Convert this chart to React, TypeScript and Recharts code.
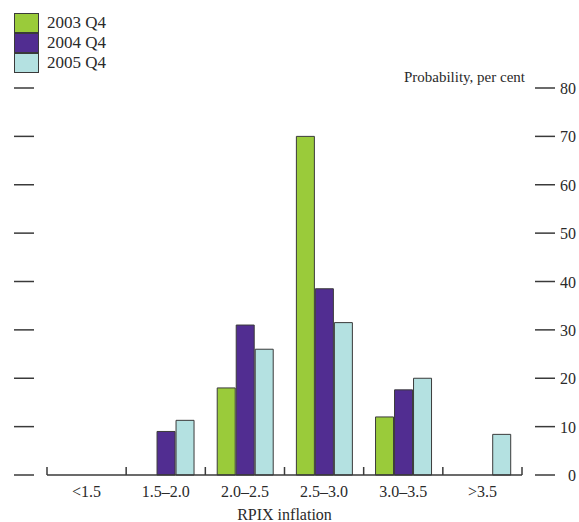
import { Bar, BarChart, XAxis, YAxis } from "recharts";

const categories = ["<1.5", "1.5–2.0", "2.0–2.5", "2.5–3.0", "3.0–3.5", ">3.5"];
const q2003 = [0, 0, 18, 70, 12, 0];
const q2004 = [0, 9, 31, 38.5, 17.6, 0];
const q2005 = [0, 11.3, 26, 31.5, 20, 8.4];
const yTicks = [0, 10, 20, 30, 40, 50, 60, 70, 80];

// the last series hangs off the right axis so that axis gets drawn too (same 0-80 domain)
const SERIES = [
  { key: "q2003", label: "2003 Q4", color: "#9acb3a", axis: "left" },
  { key: "q2004", label: "2004 Q4", color: "#512d91", axis: "left" },
  { key: "q2005", label: "2005 Q4", color: "#b4e1e1", axis: "right" },
];

const FONT = "'Liberation Serif', 'DejaVu Serif', serif";
const INK = "#2a2a2a";
const LINE = "#3a3a3a";

const data = categories.map((c, i) => ({
  cat: c,
  q2003: q2003[i],
  q2004: q2004[i],
  q2005: q2005[i],
}));

function CatTick(props: any) {
  const { x, y, payload, index } = props;
  const half = payload?.offset ?? 0;
  const last = index === categories.length - 1;
  return (
    <g>
      <line x1={x - half} x2={x - half} y1={y - 8} y2={y} stroke={LINE} strokeWidth={1.5} />
      {last && <line x1={x + half} x2={x + half} y1={y - 8} y2={y} stroke={LINE} strokeWidth={1.5} />}
      <text x={x} y={y + 22} textAnchor="middle" fontSize={16} fontFamily={FONT} fill={INK}>
        {payload.value}
      </text>
    </g>
  );
}

function LeftTick(props: any) {
  const { x, y } = props;
  return <line x1={x - 33} x2={x - 13} y1={y} y2={y} stroke={LINE} strokeWidth={1.5} />;
}

function RightTick(props: any) {
  const { x, y, payload } = props;
  return (
    <g>
      <line x1={x + 13} x2={x + 33} y1={y} y2={y} stroke={LINE} strokeWidth={1.5} />
      <text x={x + 54} y={y + 6} textAnchor="end" fontSize={16} fontFamily={FONT} fill={INK}>
        {payload.value}
      </text>
    </g>
  );
}

export default function App() {
  return (
    <div style={{ position: "absolute", left: 0, top: 0, width: 579, height: 522, background: "#fff", fontFamily: FONT }}>
      <BarChart
        width={579}
        height={522}
        data={data}
        margin={{ top: 88, right: 0, bottom: 0, left: 0 }}
        barCategoryGap="15%"
        barGap={1}
      >
        <XAxis
          dataKey="cat"
          height={47}
          axisLine={{ stroke: LINE, strokeWidth: 1.5 }}
          tickLine={false}
          tickSize={0}
          tickMargin={0}
          tick={<CatTick />}
          interval={0}
          label={{ value: "RPIX inflation", position: "insideBottom", offset: 2, fontSize: 16, fontFamily: FONT, fill: INK }}
        />
        <YAxis
          yAxisId="left"
          orientation="left"
          width={47}
          domain={[0, 80]}
          ticks={yTicks}
          axisLine={false}
          tickLine={false}
          tickSize={0}
          tickMargin={0}
          tick={<LeftTick />}
        />
        <YAxis
          yAxisId="right"
          orientation="right"
          width={57}
          domain={[0, 80]}
          ticks={yTicks}
          axisLine={false}
          tickLine={false}
          tickSize={0}
          tickMargin={0}
          tick={<RightTick />}
        />
        {SERIES.map((s) => (
          <Bar
            key={s.key}
            yAxisId={s.axis}
            dataKey={s.key}
            fill={s.color}
            stroke={LINE}
            strokeWidth={1}
            isAnimationActive={false}
          />
        ))}
      </BarChart>

      <div style={{ position: "absolute", left: 14, top: 13 }}>
        {SERIES.map((s) => (
          <div key={s.key} style={{ display: "flex", alignItems: "center", height: 20 }}>
            <div
              style={{
                width: 23,
                height: 18,
                background: s.color,
                border: `1px solid ${LINE}`,
              }}
            />
            <span style={{ marginLeft: 8, fontSize: 17, color: INK }}>{s.label}</span>
          </div>
        ))}
      </div>

      <div style={{ position: "absolute", right: 54, top: 69, fontSize: 15, color: INK }}>
        Probability, per cent
      </div>
    </div>
  );
}
